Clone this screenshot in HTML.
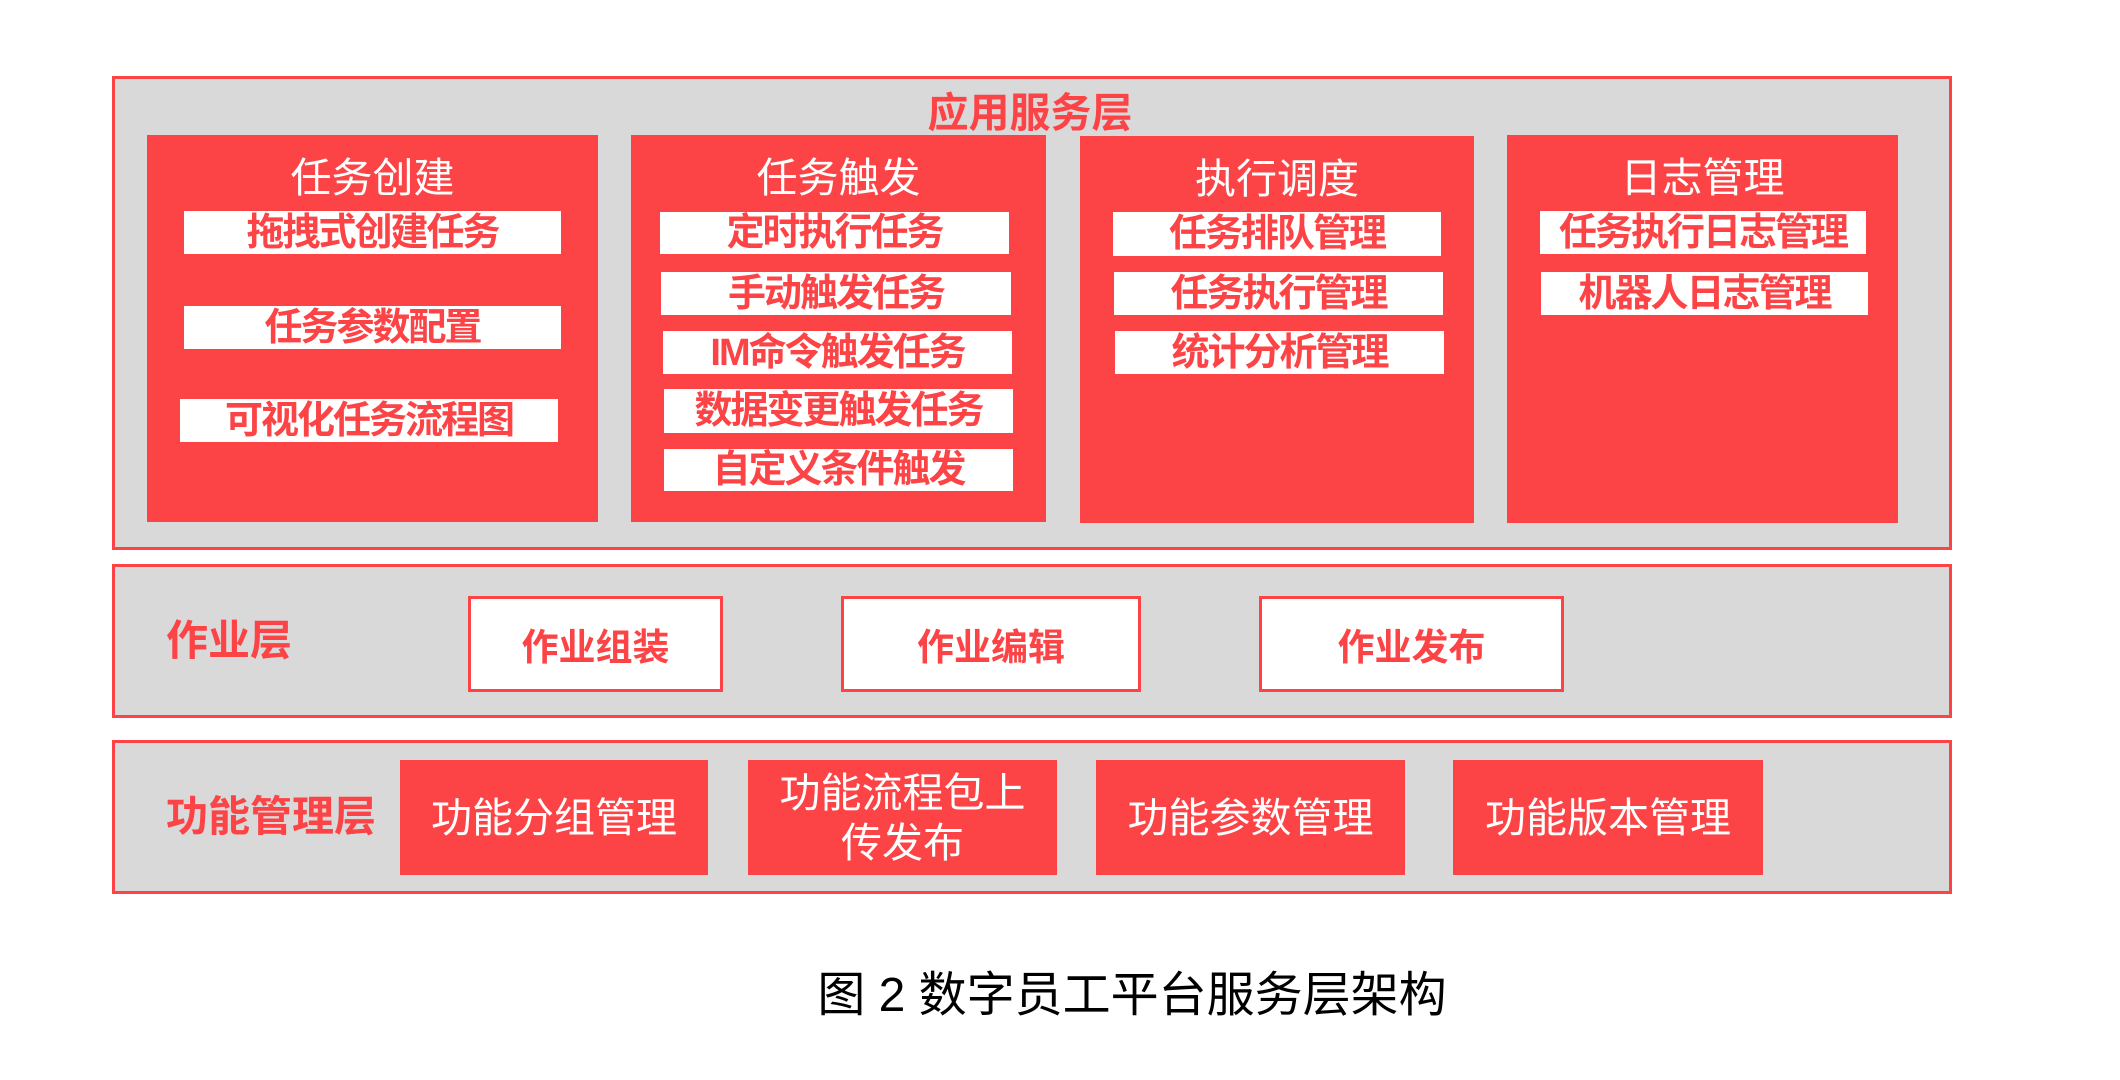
<!DOCTYPE html>
<html><head><meta charset="utf-8"><style>
body{margin:0;width:2120px;height:1080px;background:#fff;position:relative;overflow:hidden;font-family:"Liberation Sans","Noto Sans CJK SC",sans-serif}
.a{position:absolute;box-sizing:border-box}
.layer{background:#d9d9d9;border:3px solid #fc4446}
.red{background:#fc4446}
.hd{color:#fff;font-size:41px;text-align:center;width:100%;top:20px;line-height:46px}
.it{background:#fff;color:#fc4446;font-weight:bold;font-size:38px;display:flex;align-items:center;justify-content:center;letter-spacing:-2px;line-height:40px;white-space:nowrap}
.wb{background:#fff;border:3px solid #fc4446;color:#fc4446;font-weight:bold;font-size:37px;display:flex;align-items:center;justify-content:center}
.rb{background:#fc4446;color:#fff;font-size:41px;display:flex;align-items:center;justify-content:center;text-align:center;line-height:50px}
.lbl{color:#fc4446;font-weight:bold;font-size:42px;line-height:46px}
</style></head><body>
<div class="a layer" style="left:112px;top:76px;width:1840px;height:474px"></div>
<div class="a lbl" style="left:880px;top:90px;width:300px;text-align:center;font-size:41px">应用服务层</div>

<div class="a red" style="left:147px;top:135px;width:451px;height:387px"><div class="a hd">任务创建</div></div>
<div class="a red" style="left:631px;top:135px;width:415px;height:387px"><div class="a hd">任务触发</div></div>
<div class="a red" style="left:1080px;top:136px;width:394px;height:387px"><div class="a hd">执行调度</div></div>
<div class="a red" style="left:1507px;top:135px;width:391px;height:388px"><div class="a hd">日志管理</div></div>

<div class="a it" style="left:184px;top:211px;width:377px;height:43px">拖拽式创建任务</div>
<div class="a it" style="left:184px;top:306px;width:377px;height:43px">任务参数配置</div>
<div class="a it" style="left:180px;top:399px;width:378px;height:43px">可视化任务流程图</div>

<div class="a it" style="left:660px;top:212px;width:349px;height:42px">定时执行任务</div>
<div class="a it" style="left:661px;top:272px;width:350px;height:43px">手动触发任务</div>
<div class="a it" style="left:663px;top:331px;width:349px;height:43px">IM命令触发任务</div>
<div class="a it" style="left:664px;top:389px;width:349px;height:44px">数据变更触发任务</div>
<div class="a it" style="left:664px;top:449px;width:349px;height:42px">自定义条件触发</div>

<div class="a it" style="left:1113px;top:212px;width:328px;height:44px">任务排队管理</div>
<div class="a it" style="left:1114px;top:272px;width:329px;height:43px">任务执行管理</div>
<div class="a it" style="left:1115px;top:331px;width:329px;height:43px">统计分析管理</div>

<div class="a it" style="left:1540px;top:211px;width:326px;height:43px">任务执行日志管理</div>
<div class="a it" style="left:1541px;top:272px;width:327px;height:43px">机器人日志管理</div>

<div class="a layer" style="left:112px;top:564px;width:1840px;height:154px"></div>
<div class="a lbl" style="left:166px;top:618px">作业层</div>
<div class="a wb" style="left:468px;top:596px;width:255px;height:96px">作业组装</div>
<div class="a wb" style="left:841px;top:596px;width:300px;height:96px">作业编辑</div>
<div class="a wb" style="left:1259px;top:596px;width:305px;height:96px">作业发布</div>

<div class="a layer" style="left:112px;top:740px;width:1840px;height:154px"></div>
<div class="a lbl" style="left:166px;top:794px">功能管理层</div>
<div class="a rb" style="left:400px;top:760px;width:308px;height:115px">功能分组管理</div>
<div class="a rb" style="left:748px;top:760px;width:309px;height:115px">功能流程包上<br>传发布</div>
<div class="a rb" style="left:1096px;top:760px;width:309px;height:115px">功能参数管理</div>
<div class="a rb" style="left:1453px;top:760px;width:310px;height:115px">功能版本管理</div>

<div class="a" style="left:632px;top:968px;width:1000px;text-align:center;font-size:48px;line-height:56px;color:#000">图 2 数字员工平台服务层架构</div>
</body></html>
